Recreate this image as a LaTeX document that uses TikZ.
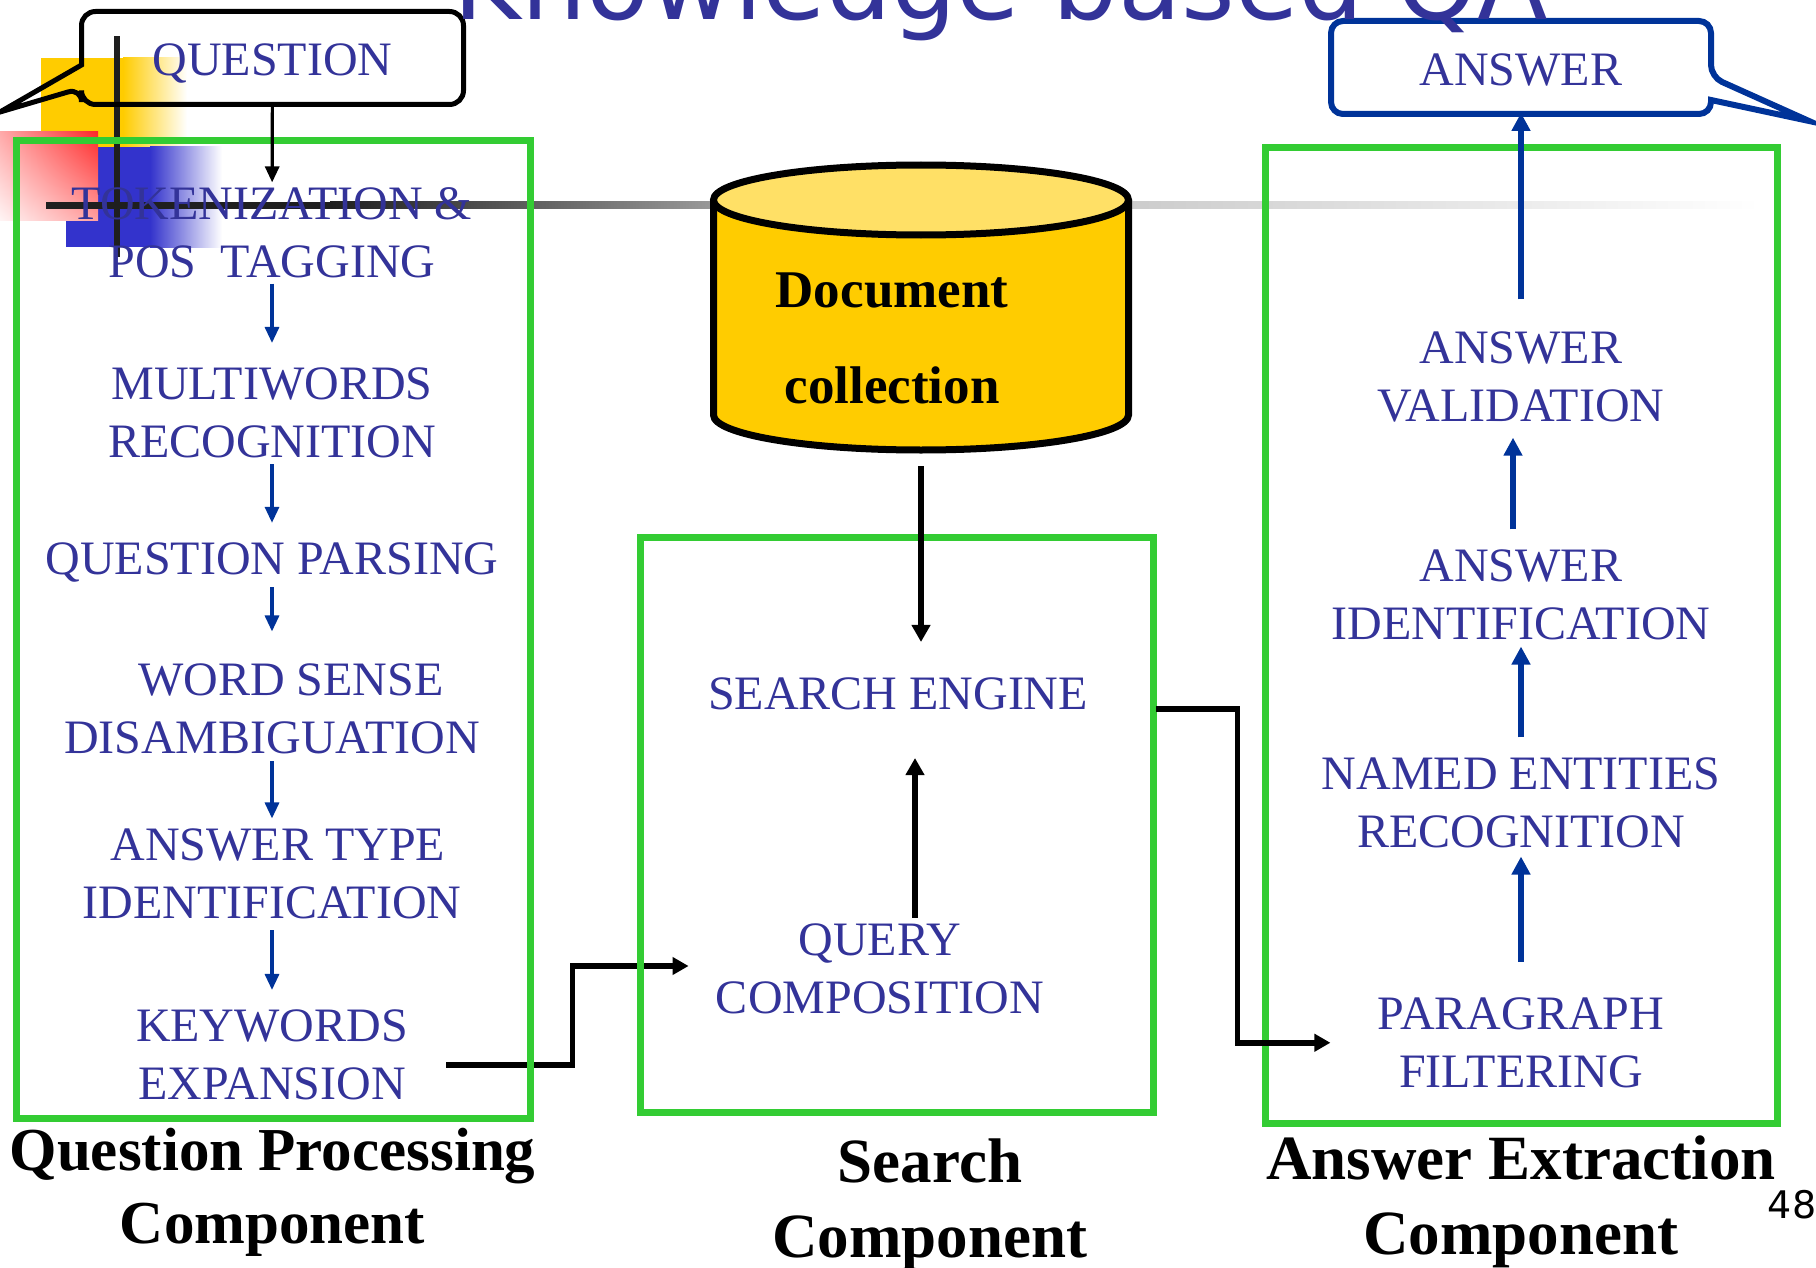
\documentclass[tikz,border=0pt]{standalone}
\usepackage{fontspec}
\setmainfont{Liberation Serif}
\newfontfamily\titlefont{DejaVu Sans}
\usetikzlibrary{arrows.meta,calc,shadings}

\definecolor{labelblue}{HTML}{333399}
\definecolor{flowblue}{HTML}{003399}
\definecolor{framegreen}{HTML}{33CC33}
\definecolor{docbody}{HTML}{FFCC00}
\definecolor{doctop}{HTML}{FFE066}
\definecolor{decoyellow}{HTML}{FFCC00}
\definecolor{decoblue}{HTML}{3333CC}
\definecolor{decored}{HTML}{FF2A2A}

\begin{document}
\begin{tikzpicture}[x=0.5pt, y=-0.5pt,
  stage/.style={inner sep=0pt, align=center, text=labelblue,
    font=\fontsize{24pt}{29pt}\selectfont},
  compname/.style={inner sep=0pt, align=center, text=black,
    font=\bfseries\fontsize{31.5pt}{37.5pt}\selectfont},
  greenframe/.style={draw=framegreen, line width=3.5pt},
  thinflow/.style={draw=flowblue, line width=1.6pt, -{Triangle[length=8pt,width=7pt]}},
  thickflow/.style={draw=flowblue, line width=3pt, -{Triangle[length=9pt,width=9pt]}},
  blackflow/.style={draw=black, line width=3pt, -{Triangle[length=8.5pt,width=9pt]}},
  flowlink/.style={draw=black, line width=2.75pt, -{Triangle[length=8pt,width=8.5pt]}},
]
\useasboundingbox (0,0) rectangle (1816,1268);
\clip (0,0) rectangle (1816,1268);

% slide decoration: coloured squares and rules
\fill[decoyellow] (41,58) rectangle (123,147);
\shade[left color=decoyellow, right color=white] (123,58) rectangle (187,147);
\fill[decoblue] (66,147) rectangle (150,247);
\shade[left color=decoblue, right color=white] (150,147) rectangle (222,247);
\shade[upper right=decored, upper left=decored!40!white,
       lower right=decored!45!white, lower left=decored!5!white] (0,132) rectangle (98,220);
\fill[black!88] (46,201.5) rectangle (330,208.5);
\shade[left color=black!88, right color=black!40] (330,201.5) rectangle (712,208.5);
\shade[left color=black!20, right color=white] (1130,201.5) rectangle (1760,208.5);
\fill[black!88] (114,36) rectangle (120,257);

% document collection (cylinder)
\fill[docbody] (713.5,200) rectangle (1128.5,415);
\fill[docbody] (921,415) ellipse [x radius=207.5, y radius=35];
\draw[line width=3.5pt] (713.5,200) -- (713.5,415)
  arc[start angle=180, end angle=0, x radius=207.5, y radius=35] -- (1128.5,200);
\draw[line width=3.5pt, fill=doctop] (921,200) ellipse [x radius=207.5, y radius=35];
\coordinate (docbase) at (921,450);
\node[inner sep=0pt, align=center, font=\bfseries\fontsize{26.5pt}{48pt}\selectfont]
  (doc) at (892,338) {Document\\collection};

% question processing stages
\node[stage] (tok)    at (272,232.5) {TOKENIZATION \&\\POS~~TAGGING};
\node[stage] (multi)  at (272,413)   {MULTIWORDS\\RECOGNITION};
\node[stage] (qparse) at (272,562.5) {QUESTION PARSING};
\node[stage] (wsd)    at (272,709)   {\hspace*{19pt}WORD SENSE\\DISAMBIGUATION};
\node[stage] (atype)  at (272,874)   {\hspace*{6pt}ANSWER TYPE\\IDENTIFICATION};
\node[stage] (kwexp)  at (272,1054.5){KEYWORDS\\EXPANSION};

% search stages
\node[stage] (seng)  at (898,694) {SEARCH ENGINE};
\node[stage] (qcomp) at (880,969) {QUERY\\COMPOSITION};

% answer extraction stages
\node[stage] (aval)  at (1521,376.5) {ANSWER\\VALIDATION};
\node[stage] (aid)   at (1521,594.5) {ANSWER\\IDENTIFICATION};
\node[stage] (ner)   at (1521,802.5) {NAMED ENTITIES\\RECOGNITION};
\node[stage] (pfilt) at (1521,1042.75) {PARAGRAPH\\FILTERING};

% component captions
\node[compname, font=\bfseries\fontsize{30.5pt}{36.5pt}\selectfont]
  (qpc) at (272.5,1192) {Question Processing\\Component};
\node[compname] (sc)  at (930,1205)  {Search\\Component};
\node[compname] (aec) at (1521,1202) {Answer Extraction\\Component};
\node[inner sep=0pt, anchor=base, font=\titlefont\fontsize{19pt}{22pt}\selectfont]
  (pagenum) at (1792,1218) {48};

% link from the keyword expansion into the search component
\draw[flowlink] ($(kwexp.east)+(38,10.5)$) -- ++(126,0) |- ($(qcomp.west)+(-27,-3)$);

% component frames
\draw[greenframe] (16,141) rectangle (530,1118);
\draw[greenframe] (640,537) rectangle (1153,1112);
\draw[greenframe] (1265,148) rectangle (1777,1123);

% question callout
\node[stage, text depth=0pt, minimum width=191pt, minimum height=46.5pt]
  (question) at (272.5,60) {QUESTION};
\draw[line width=2.5pt, rounded corners=7pt]
  (81.5,65) -- (81.5,11.5) -- (463.5,11.5) -- (463.5,104.5) -- (81.5,104.5)
  -- (81.5,88) [sharp corners] -- (0,112) -- cycle;

% answer callout
\node[stage, text depth=0pt, minimum width=190pt, minimum height=46.5pt]
  (answer) at (1521,70) {ANSWER};
\draw[flowblue, line width=3pt, rounded corners=6pt]
  (1711,100) -- (1711,114) -- (1331,114) -- (1331,21) -- (1711,21)
  -- (1711,77) [sharp corners] -- (1809,121) -- cycle;

% question processing flow
\draw[draw=black, line width=1.6pt, -{Triangle[length=8pt,width=7pt]},
      shorten >=2.25pt] (question) -- (tok);
\draw[thinflow, shorten <=2.75pt, shorten >=12.25pt] (tok) -- (multi);
\draw[thinflow, shorten <=2.75pt, shorten >=9.75pt] (multi) -- (qparse);
\draw[thinflow, shorten <=2.25pt, shorten >=16pt] (qparse) -- (wsd);
\draw[thinflow, shorten <=3.25pt, shorten >=5pt] (wsd) -- (atype);
\draw[thinflow, shorten <=5.25pt, shorten >=9.5pt] (atype) -- (kwexp);

% search flow
\draw[blackflow, shorten <=8pt, shorten >=17.75pt] (docbase) -- (docbase |- seng.north);
\draw[blackflow, shorten <=2.75pt, shorten >=23.75pt]
  ($(qcomp.north)+(35,0)$) -- ($(seng.south)+(17,0)$);
\draw[flowlink] ($(seng.east)+(68,15)$) -- ++(81,0) |- ($(pfilt.west)+(-47,0)$);

% answer extraction flow
\draw[thickflow, shorten <=17.75pt, shorten >=4.25pt] (pfilt) -- (ner);
\draw[thickflow, shorten <=9.75pt, shorten >=3.25pt] (ner) -- (aid);
\draw[thickflow, shorten <=9.75pt, shorten >=7.75pt]
  ($(aid.north)+(-8,0)$) -- ($(aval.south)+(-8,0)$);
\draw[thickflow, line width=2.6pt, shorten <=15.75pt, shorten >=-2pt] (aval) -- (answer);

% slide title, cut by the top edge
\node[anchor=base, inner sep=0pt, text=labelblue,
      font=\titlefont\fontsize{51.5pt}{60pt}\selectfont]
  (title) at (1001,20) {Knowledge based QA};
\end{tikzpicture}
\end{document}
